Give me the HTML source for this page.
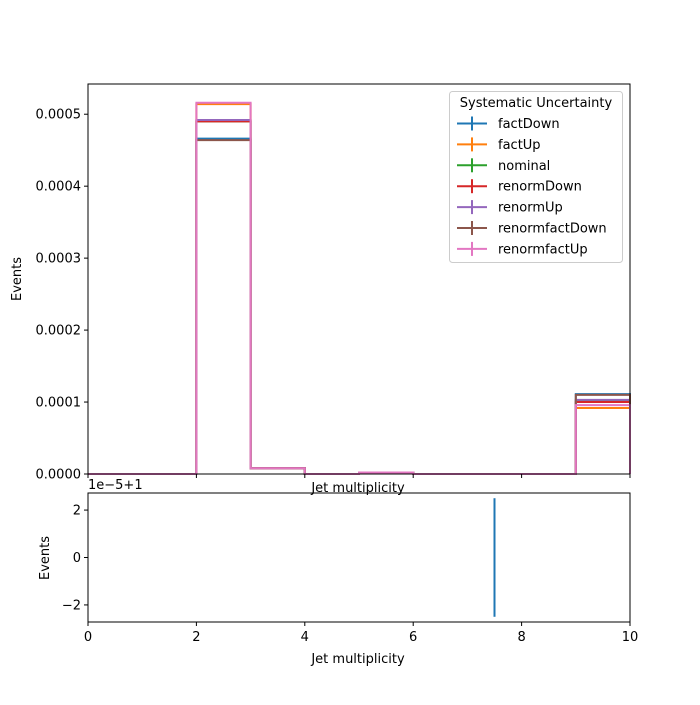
<!DOCTYPE html>
<html><head><meta charset="utf-8"><style>
body{margin:0;background:#fff}
svg text{font-family:"DejaVu Sans","Liberation Sans",sans-serif;font-size:13px;fill:#000}
</style></head><body>
<svg id="c" width="700" height="700" xmlns="http://www.w3.org/2000/svg"></svg>
<script>
const binEdges=[0,1,2,3,4,5,6,7,8,9,10];
const seriesNames=["factDown","factUp","nominal","renormDown","renormUp","renormfactDown","renormfactUp"];
const seriesColors=["#1f77b4","#ff7f0e","#2ca02c","#d62728","#9467bd","#8c564b","#e377c2"];
const factDown=[0,0,0.000466,0.000008,0,0.000002,0,0,0,0.000111];
const factUp=[0,0,0.000514,0.000008,0,0.000002,0,0,0,0.0000917];
const nominal=[0,0,0.000490,0.000008,0,0.000002,0,0,0,0.000102];
const renormDown=[0,0,0.000490,0.000008,0,0.000002,0,0,0,0.000100];
const renormUp=[0,0,0.000492,0.000008,0,0.000002,0,0,0,0.000103];
const renormfactDown=[0,0,0.000464,0.000008,0,0.000002,0,0,0,0.000110];
const renormfactUp=[0,0,0.000516,0.000008,0,0.000002,0,0,0,0.0000958];
const mainYTicks=[0,0.0001,0.0002,0.0003,0.0004,0.0005];
const mainYTickLabels=["0.0000","0.0001","0.0002","0.0003","0.0004","0.0005"];
const xTicks=[0,2,4,6,8,10];
const ratioYTicks=[-2,0,2];
const ratioLineX=[7.5];
const ratioLineY=[-2.5,2.5];
const allSeries=[factDown,factUp,nominal,renormDown,renormUp,renormfactDown,renormfactUp];

const NS="http://www.w3.org/2000/svg";
const svg=document.getElementById('c');
function mk(t,a,p){const e=document.createElementNS(NS,t);for(const k in a)e.setAttribute(k,a[k]);(p||svg).appendChild(e);return e;}
const L=88,R=630,T=84,B=474;
const x=v=>L+(v-0)/(10-0)*(R-L);
const y=v=>B-(v-0)/(0.000542)*(B-T);
const rT=493,rB=622;
const ry=v=>rB-(v+2.72)/(5.44)*(rB-rT);

// main series
allSeries.forEach((s,i)=>{
  let d=`M${x(binEdges[0])},${y(0)}`;
  for(let j=0;j<s.length;j++){d+=` L${x(binEdges[j])},${y(s[j])} L${x(binEdges[j+1])},${y(s[j])}`;}
  d+=` L${x(binEdges[binEdges.length-1])},${y(0)}`;
  const p=mk('path',{d:d,fill:'none',stroke:seriesColors[i],'stroke-width':2});
  
  
});
const ax=mk('rect',{x:L,y:T,width:R-L,height:B-T,fill:'none',stroke:'#000','stroke-width':1});

mainYTicks.forEach((v,i)=>{
  mk('line',{x1:L-4,x2:L,y1:y(v),y2:y(v),stroke:'#000'});
  const t=mk('text',{x:L-7,y:y(v)+4.5,'text-anchor':'end'});t.textContent=mainYTickLabels[i];
  
});
xTicks.forEach(v=>{mk('line',{x1:x(v),x2:x(v),y1:B,y2:B+4,stroke:'#000'});});
let t=mk('text',{x:358,y:492,'text-anchor':'middle'});t.textContent='Jet multiplicity';

t=mk('text',{x:21,y:279,'text-anchor':'middle',transform:'rotate(-90 21 279)'});t.textContent='Events';


// legend
const lg=mk('g',{});
mk('rect',{x:449.5,y:91.5,width:173,height:171,rx:3,fill:'#fff','fill-opacity':0.8,stroke:'#ccc'},lg);
t=mk('text',{x:536,y:107,'text-anchor':'middle'},lg);t.textContent='Systematic Uncertainty';
seriesNames.forEach((n,i)=>{
  const yy=123.5+i*20.9;
  const g=mk('g',{},lg);
  mk('line',{x1:457,x2:487,y1:yy,y2:yy,stroke:seriesColors[i],'stroke-width':2},g);
  mk('line',{x1:472,x2:472,y1:yy-7,y2:yy+7,stroke:seriesColors[i],'stroke-width':2},g);
  const tt=mk('text',{x:498,y:yy+4.5},g);tt.textContent=n;
});

// ratio panel
const rl=mk('line',{x1:x(ratioLineX[0]),x2:x(ratioLineX[0]),y1:ry(ratioLineY[1]),y2:ry(ratioLineY[0]),stroke:'#1f77b4','stroke-width':2});

const rax=mk('rect',{x:L,y:rT,width:R-L,height:rB-rT,fill:'none',stroke:'#000'});

ratioYTicks.forEach(v=>{
  mk('line',{x1:L-4,x2:L,y1:ry(v),y2:ry(v),stroke:'#000'});
  const tt=mk('text',{x:L-7,y:ry(v)+4.5,'text-anchor':'end'});tt.textContent=(v<0?'\u2212'+(-v):String(v));
  
});
xTicks.forEach(v=>{
  mk('line',{x1:x(v),x2:x(v),y1:rB,y2:rB+4,stroke:'#000'});
  const tt=mk('text',{x:x(v),y:rB+19,'text-anchor':'middle'});tt.textContent=String(v);
  
});
t=mk('text',{x:88,y:489});t.textContent='1e\u22125+1';

t=mk('text',{x:358,y:663,'text-anchor':'middle'});t.textContent='Jet multiplicity';

t=mk('text',{x:49,y:558,'text-anchor':'middle',transform:'rotate(-90 49 558)'});t.textContent='Events';

</script>
</body></html>
